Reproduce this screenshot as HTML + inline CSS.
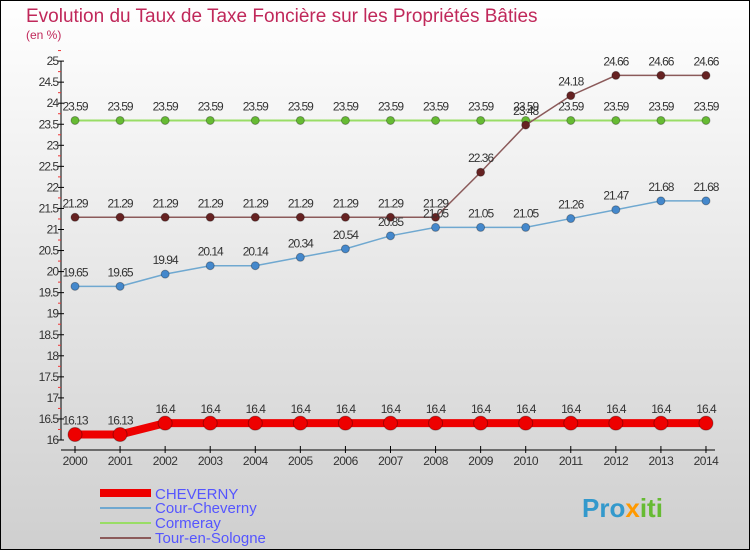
<!DOCTYPE html>
<html><head><meta charset="utf-8"><style>
body{margin:0;}
#c{width:750px;height:550px;position:relative;}
svg text{font-family:"Liberation Sans",sans-serif;}
</style></head><body>
<div id="c">
<svg id="s" width="750" height="550" xmlns="http://www.w3.org/2000/svg">
<defs><linearGradient id="bg" x1="0" y1="0" x2="0" y2="1"><stop offset="0" stop-color="#ffffff"/><stop offset="1" stop-color="#cfcfcf"/></linearGradient></defs>
<rect x="0.5" y="0.5" width="749" height="549" fill="url(#bg)" stroke="#000"/>
<text x="26" y="22" font-size="19" fill="#c0285a">Evolution du Taux de Taxe Foncière sur les Propriétés Bâties</text>
<text x="26" y="39" font-size="12" fill="#c0285a">(en %)</text>
<g id="axes"></g><g id="series"></g>
<g>
<line x1="100" y1="493" x2="151" y2="493" stroke="#ee0000" stroke-width="8"/>
<text x="155" y="499" font-size="15" fill="#5555ff">CHEVERNY</text>
<line x1="100" y1="508" x2="151" y2="508" stroke="#6fa8d0" stroke-width="2"/>
<text x="155" y="513" font-size="15" fill="#5555ff">Cour-Cheverny</text>
<line x1="100" y1="523" x2="151" y2="523" stroke="#99dd66" stroke-width="2"/>
<text x="155" y="528" font-size="15" fill="#5555ff">Cormeray</text>
<line x1="100" y1="538" x2="151" y2="538" stroke="#8b5a5a" stroke-width="2"/>
<text x="155" y="543" font-size="15" fill="#5555ff">Tour-en-Sologne</text>
</g>
<text x="582" y="517" font-size="26" font-weight="bold" fill="#3399cc">Pro<tspan fill="#ff9900">x</tspan><tspan fill="#66bb33">iti</tspan></text>
</svg></div>
<script>
const years=[2000,2001,2002,2003,2004,2005,2006,2007,2008,2009,2010,2011,2012,2013,2014];
const cheverny=[16.13,16.13,16.4,16.4,16.4,16.4,16.4,16.4,16.4,16.4,16.4,16.4,16.4,16.4,16.4];
const courCheverny=[19.65,19.65,19.94,20.14,20.14,20.34,20.54,20.85,21.05,21.05,21.05,21.26,21.47,21.68,21.68];
const cormeray=[23.59,23.59,23.59,23.59,23.59,23.59,23.59,23.59,23.59,23.59,23.59,23.59,23.59,23.59,23.59];
const tour=[21.29,21.29,21.29,21.29,21.29,21.29,21.29,21.29,21.29,22.36,23.48,24.18,24.66,24.66,24.66];
const yTicks=[16,16.5,17,17.5,18,18.5,19,19.5,20,20.5,21,21.5,22,22.5,23,23.5,24,24.5,25];
const NS="http://www.w3.org/2000/svg";
const X=i=>75+i*45.07;
const Y=v=>440-(v-16)*42.1;
function mk(t,a,p){const e=document.createElementNS(NS,t);for(const k in a)e.setAttribute(k,a[k]);p.appendChild(e);return e;}
const ax=document.getElementById('axes');
const ya=mk('line',{x1:61,y1:Y(25),x2:61,y2:Y(16),stroke:'#000'},ax);


const xa=mk('line',{x1:61,y1:450,x2:715,y2:450,stroke:'#000'},ax);


yTicks.forEach(v=>{
 mk('line',{x1:58,y1:Y(v),x2:64,y2:Y(v),stroke:'#000'},ax);
 mk('line',{x1:58,y1:Y(v+0.25),x2:61,y2:Y(v+0.25),stroke:'#e33'},ax);
 const t=mk('text',{x:58,y:Y(v)+4,'font-size':12,fill:'#333','text-anchor':'end','letter-spacing':'-1'},ax);
 t.textContent=v;
 
 
});
years.forEach((y,i)=>{
 mk('line',{x1:X(i),y1:446,x2:X(i),y2:453,stroke:'#000'},ax);
 const t=mk('text',{x:X(i),y:465,'font-size':12,fill:'#333','text-anchor':'middle','letter-spacing':'-0.5'},ax);
 t.textContent=y;
 
 
});
const sg=document.getElementById('series');
function series(name,vals,col,dot,w,r){
 const g=mk('g',{},sg);
 
 
 const l=mk('polyline',{points:vals.map((v,i)=>X(i)+','+Y(v)).join(' '),fill:'none',stroke:col,'stroke-width':w},g);
 
 
 vals.forEach((v,i)=>{
  const c=mk('circle',{cx:X(i),cy:Y(v),r:r,fill:dot,stroke:'rgba(0,0,0,0.3)'},g);
  
  
  const t=mk('text',{x:X(i),y:Y(v)-10,'font-size':12,fill:'#333','text-anchor':'middle','letter-spacing':'-1'},g);
  t.textContent=v;
  
  
 });
}
series('cormeray',cormeray,'#99dd66','#66bb33',2,4);
series('tour-en-sologne',tour,'#8b5a5a','#662222',1.5,4);
series('cour-cheverny',courCheverny,'#6fa8d0','#4488cc',1.5,4);
series('cheverny',cheverny,'#ee0000','#ee0000',8,7);
</script>
</body></html>
